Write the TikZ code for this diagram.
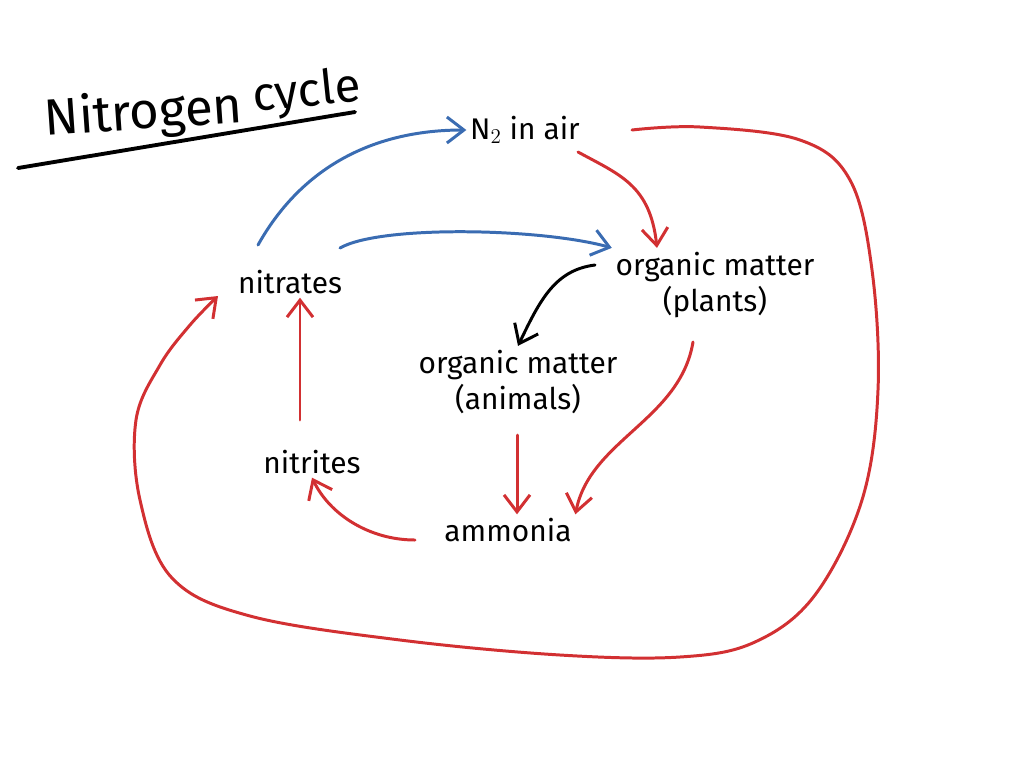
\documentclass[tikz,border=0pt]{standalone}
\usepackage{fontspec}
\setmainfont{Fira Sans}
\usetikzlibrary{arrows.meta,calc}
\definecolor{penred}{RGB}{210,48,50}
\definecolor{penblue}{RGB}{58,108,178}
\begin{document}
\begin{tikzpicture}[x=0.02cm,y=-0.02cm,
  lbl/.style={font=\fontsize{17}{21}\selectfont, align=center, inner sep=2pt},
  ttl/.style={anchor=base west, inner sep=0pt},
  pen/.style={line width=1.7pt, line cap=round, line join=round, -{Straight Barb[length=3.4mm,width=5.2mm,line width=1.7pt]}},
  redpen/.style={pen, draw=penred},
  bluepen/.style={pen, draw=penblue},
  blackpen/.style={pen, draw=black}]
\useasboundingbox (0,0) rectangle (1024,768);
% title
\node[ttl, font=\fontsize{29}{33}\selectfont, rotate=4] (title1) at (45,136) {Nitrogen};
\node[ttl, font=\fontsize{27}{31}\selectfont, rotate=6] (title2) at (254,112) {cycle};
\coordinate (ulA) at (18,168);
\coordinate (ulB) at (355,112);
\draw[line width=2.2pt, line cap=round] (ulA) -- (ulB);
% nodes
\node[lbl] (n2) at (525,130) {N$_2$ in air};
\node[lbl] (nitrates) at (290,282) {nitrates};
\node[lbl] (plants) at (715,285) {organic matter\\(plants)};
\node[lbl] (animals) at (518,382) {organic matter\\(animals)};
\node[lbl] (nitrites) at (312,462) {nitrites};
\node[lbl] (ammonia) at (508,530) {ammonia};
% coordinates for connector ends
\coordinate (b1) at (258,245);
\coordinate (b2) at (340,248);
\coordinate (r1) at (578,152);
\coordinate (k1) at (595,265);
\coordinate (r2) at (517,435);
\coordinate (r3) at (693,342);
\coordinate (r4) at (415,540);
\coordinate (r5) at (300,420);
\coordinate (r6) at (632,130);
\coordinate (r7) at (218,296);
% blue connectors
\draw[bluepen] (b1) .. controls (300,170) and (370,130) .. (n2.west);
\draw[bluepen] (b2) .. controls (380,225) and (540,228) .. (plants.north west);
% red N2 -> plants
\draw[redpen] (r1) .. controls (620,175) and (650,185) .. (plants.north west -| 657,0);
% black plants -> animals
\draw[blackpen] (k1) .. controls (555,270) and (540,300) .. (animals.north);
% red animals -> ammonia
\draw[redpen] (r2) -- (ammonia.north -| r2);
% red plants -> ammonia
\draw[redpen] (r3) .. controls (680,420) and (590,440) .. (ammonia.north east);
% red ammonia -> nitrites
\draw[redpen] (r4) .. controls (370,540) and (330,515) .. (nitrites.south);
% red nitrites -> nitrates
\draw[redpen] (r5) -- (nitrates.south -| r5);
% big loop N2 -> nitrates
\draw[redpen] plot[smooth, tension=0.6] coordinates {(r6) (700,127) (800,140) (850,180) (872,270) (878,390) (862,500) (815,595) (755,642) (680,657) (560,655) (400,640) (250,616) (172,578) (140,500) (136,420) (160,365) (190,325) (r7)};
\end{tikzpicture}
\end{document}
